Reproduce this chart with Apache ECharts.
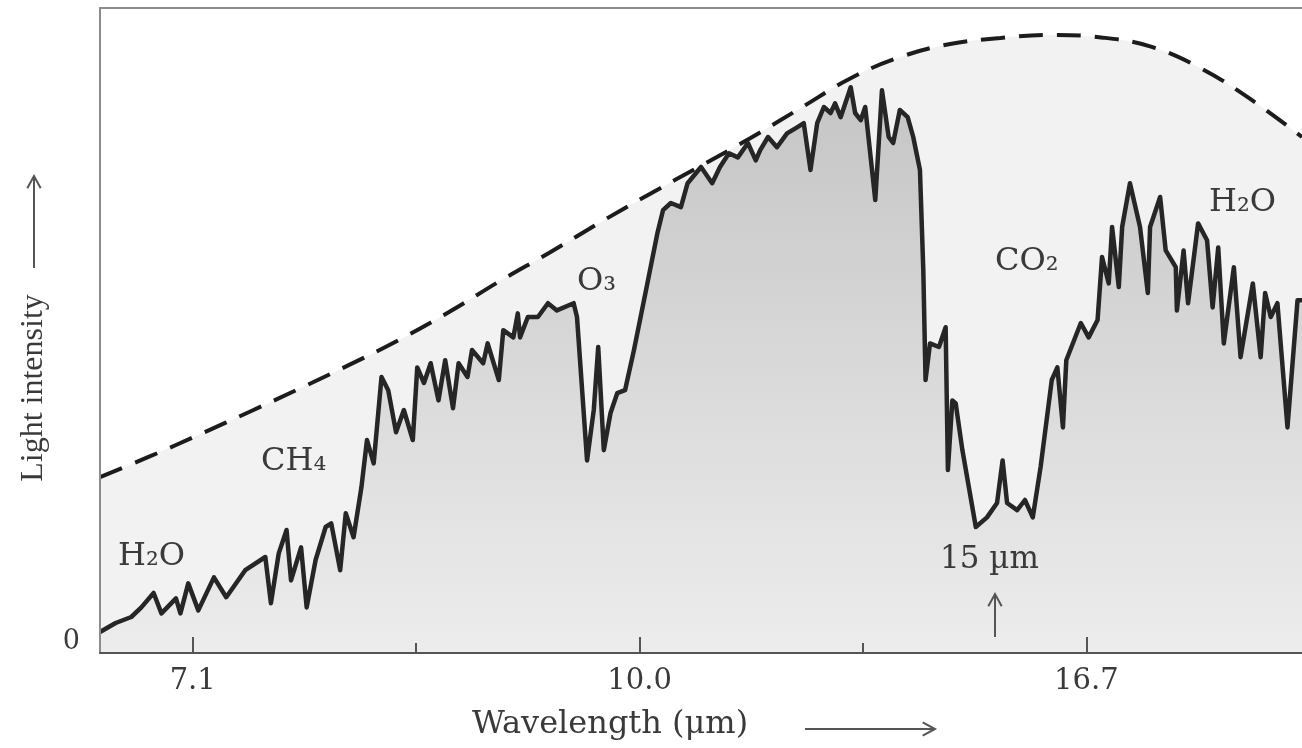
<!DOCTYPE html>
<html>
<head>
<meta charset="utf-8">
<script src="https://cdn.jsdelivr.net/npm/echarts@6/dist/echarts.min.js"></script>
<style>
  html, body { margin: 0; padding: 0; background: #ffffff; }
  #main { width: 1302px; height: 748px; }
</style>
</head>
<body>
<div id="main"></div>
<script>
  // x is wavenumber (cm-1), the axis is labelled in wavelength (um)
  const tickValues = [1400, 1000, 600];
  const tickLabels = ['7.1', '10.0', '16.7'];
  const minorTickValues = [1200, 800];

  // measured spectrum
  const specWavenumber = [
    1483, 1469, 1455, 1446, 1435, 1428, 1415, 1411, 1404, 1395,
    1381, 1370, 1353, 1335, 1330, 1323, 1316, 1312, 1303, 1298,
    1290, 1281, 1276, 1268, 1263, 1256, 1249, 1244, 1238, 1231,
    1225, 1218, 1211, 1203, 1199, 1193, 1187, 1180, 1174, 1167,
    1162, 1154, 1150, 1140, 1136, 1126, 1122, 1113, 1109, 1107,
    1100, 1091, 1082, 1074, 1059, 1056, 1047, 1041, 1037, 1032,
    1026, 1020, 1013, 1005, 993, 984, 979, 972, 963, 957,
    945, 935, 928, 920, 912, 903, 896, 892, 885, 877,
    868, 859, 853, 847, 841, 835, 829, 825, 820, 811,
    807, 802, 798, 789, 783, 777, 773, 767, 760, 755,
    749, 746, 744, 740, 732, 726, 724, 720, 717, 711,
    699, 689, 680, 675, 671, 662, 655, 648, 641, 631,
    626, 621, 618, 605, 598, 590, 586, 580, 577, 571,
    568, 561, 552, 545, 543, 534, 529, 520, 519, 513,
    509, 500, 492, 487, 482, 477, 468, 462, 451, 444,
    440, 435, 429, 420, 411, 407
  ];
  const specIntensity = [
    1.7, 3.2, 4.2, 5.8, 8.2, 4.8, 7.3, 4.8, 9.8, 5.3,
    10.8, 7.5, 12, 14.2, 6.5, 14.8, 18.7, 10.3, 15.8, 5.8,
    13.7, 19.2, 19.8, 12, 21.5, 17.5, 25.8, 33.7, 29.8, 44.2,
    42, 35, 38.7, 33.7, 45.8, 43.2, 46.5, 40.3, 47, 39,
    46.5, 44.2, 48.7, 46.5, 49.8, 43.7, 52, 50.8, 54.8, 50.8,
    54.2, 54.2, 56.5, 55.3, 56.5, 54.2, 30.3, 38.7, 49.2, 32,
    38.2, 41.5, 42, 48.7, 59.8, 68.2, 72, 73.2, 72.5, 76.5,
    79.2, 76.5, 79.2, 81.5, 80.8, 83.2, 80.3, 82, 84.2, 82.5,
    84.8, 85.8, 86.5, 78.7, 86.5, 89.2, 88.2, 89.8, 87.5, 92.5,
    88.2, 87, 89.2, 73.7, 92, 84.2, 83.2, 88.7, 87.5, 84.2,
    78.7, 62, 43.7, 49.8, 49.2, 52.5, 28.7, 40.3, 39.8, 32,
    19.2, 20.8, 23.2, 30.3, 23.2, 22, 23.7, 20.8, 29.2, 43.7,
    45.8, 35.8, 47, 53.2, 50.8, 53.7, 64.2, 59.8, 69.2, 59.2,
    69.2, 76.5, 69.2, 58.2, 69.2, 74.2, 65.3, 62.5, 55.3, 65.3,
    56.5, 69.8, 67, 55.8, 65.8, 49.8, 62.5, 47.5, 59.8, 47.5,
    58.2, 54.2, 56.5, 35.8, 57, 57
  ];

  // blackbody envelope (dashed)
  const planckWavenumber = [
    1483, 1438, 1393, 1348, 1304, 1259, 1214, 1169, 1125, 1080,
    1035, 990, 946, 901, 856, 811, 767, 722, 677, 632,
    587, 543, 498, 453, 407
  ];
  const planckIntensity = [
    27.5, 31, 34.7, 38.5, 42.3, 46.3, 50.5, 55.2, 60.2, 65,
    70, 74.8, 79.3, 84, 89, 94, 97.5, 99.7, 100.7, 101.2,
    100.8, 99.3, 95.7, 90.5, 84.2
  ];

  const zip = (xs, ys) => xs.map((x, i) => [x, ys[i]]);

  const serif = 'DejaVu Serif';
  const textColor = '#3a3a3a';
  const xMin = 407, xMax = 1483;

  const chart = echarts.init(document.getElementById('main'));

  // little helper for the arrows drawn beside the axis names
  const arrow = (x1, y1, x2, y2) => {
    const ang = Math.atan2(y2 - y1, x2 - x1);
    const h = 14, w = 0.5;
    return {
      type: 'group',
      silent: true,
      z: 100,
      children: [
        { type: 'line', z: 100, shape: { x1, y1, x2, y2 }, style: { stroke: '#555', lineWidth: 2 } },
        {
          type: 'polyline',
          z: 100,
          shape: {
            points: [
              [x2 - h * Math.cos(ang - w), y2 - h * Math.sin(ang - w)],
              [x2, y2],
              [x2 - h * Math.cos(ang + w), y2 - h * Math.sin(ang + w)]
            ]
          },
          style: { stroke: '#555', lineWidth: 2, fill: null }
        }
      ]
    };
  };

  const note = (x, y, text, size) => ({
    type: 'text',
    x, y,
    z: 100,
    silent: true,
    style: {
      text,
      fill: textColor,
      font: `${size || 32}px "${serif}"`,
      textAlign: 'left',
      textVerticalAlign: 'middle'
    }
  });

  const option = {
    animation: false,
    backgroundColor: '#ffffff',
    grid: {
      left: 100,
      right: 0,
      top: 8,
      bottom: 95
    },
    xAxis: [
      {
        type: 'value',
        inverse: true,
        min: xMin,
        max: xMax,
        z: 10,
        splitLine: { show: false },
        axisLine: { show: true, onZero: false, lineStyle: { color: '#555', width: 2 } },
        axisTick: {
          show: true,
          inside: true,
          length: 16,
          customValues: tickValues,
          lineStyle: { color: '#555', width: 2 }
        },
        axisLabel: {
          customValues: tickValues,
          formatter: (v) => tickLabels[tickValues.indexOf(v)] || '',
          margin: 14,
          color: textColor,
          fontFamily: serif,
          fontSize: 29
        }
      },
      {
        // minor ticks only
        type: 'value',
        inverse: true,
        position: 'bottom',
        min: xMin,
        max: xMax,
        z: 10,
        splitLine: { show: false },
        axisLine: { show: false, onZero: false },
        axisLabel: { show: false },
        axisTick: {
          show: true,
          inside: true,
          length: 10,
          customValues: minorTickValues,
          lineStyle: { color: '#555', width: 2 }
        }
      },
      {
        // top frame line
        type: 'value',
        inverse: true,
        position: 'top',
        min: xMin,
        max: xMax,
        z: 10,
        splitLine: { show: false },
        axisLine: { show: true, onZero: false, lineStyle: { color: '#8c8c8c', width: 2 } },
        axisLabel: { show: false },
        axisTick: { show: false }
      }
    ],
    yAxis: {
      type: 'value',
      min: -1.8,
      max: 105.7,
      z: 10,
      splitLine: { show: false },
      axisLine: { show: true, onZero: false, lineStyle: { color: '#8c8c8c', width: 2 } },
      axisTick: { show: false },
      axisLabel: {
        customValues: [0],
        formatter: '0',
        margin: 20,
        color: textColor,
        fontFamily: serif,
        fontSize: 27
      }
    },
    series: [
      {
        name: 'Blackbody',
        type: 'line',
        smooth: 0.4,
        symbol: 'none',
        z: 1,
        data: zip(planckWavenumber, planckIntensity),
        lineStyle: { color: '#1c1c1c', width: 4, type: [24, 14] },
        areaStyle: { color: '#f2f2f2', origin: 'start', opacity: 1 }
      },
      {
        name: 'Spectrum',
        type: 'line',
        symbol: 'none',
        z: 3,
        data: zip(specWavenumber, specIntensity),
        lineStyle: { color: '#262626', width: 4.5, join: 'round' },
        areaStyle: {
          origin: 'start',
          opacity: 1,
          color: {
            type: 'linear', x: 0, y: 90, x2: 0, y2: 645, global: true,
            colorStops: [
              { offset: 0, color: '#c5c5c5' },
              { offset: 0.5, color: '#d9d9d9' },
              { offset: 1, color: '#ececec' }
            ]
          }
        }
      }
    ],
    graphic: [
      note(118, 557, 'H₂O'),
      note(261, 462, 'CH₄'),
      note(577, 282, 'O₃'),
      note(995, 262, 'CO₂'),
      note(1209, 203, 'H₂O'),
      note(940, 560, '15 µm', 31),
      arrow(995, 637, 995, 594),
      {
        type: 'text',
        x: 610, y: 725,
        z: 100,
        silent: true,
        style: {
          text: 'Wavelength (μm)',
          fill: textColor,
          font: `32px "${serif}"`,
          textAlign: 'center',
          textVerticalAlign: 'middle'
        }
      },
      arrow(805, 729, 935, 729),
      {
        type: 'text',
        x: 34, y: 388,
        z: 100,
        rotation: Math.PI / 2,
        silent: true,
        style: {
          text: 'Light intensity',
          fill: textColor,
          font: '32px "Liberation Serif"',
          textAlign: 'center',
          textVerticalAlign: 'middle'
        }
      },
      arrow(34, 268, 34, 176)
    ]
  };

  chart.setOption(option);
</script>
</body>
</html>
